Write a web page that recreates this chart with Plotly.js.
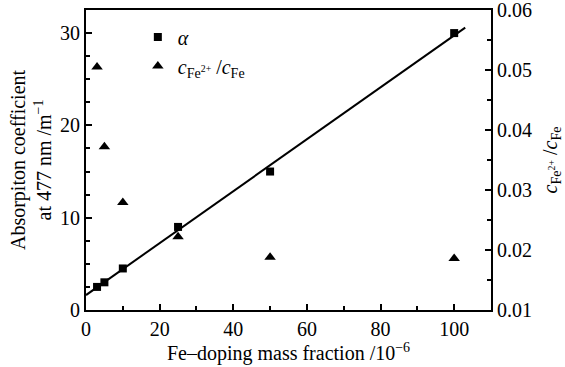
<!DOCTYPE html>
<html>
<head>
<meta charset="utf-8">
<script src="https://cdn.plot.ly/plotly-3.0.1.min.js"></script>
<style>html,body{margin:0;padding:0;background:#fff;}#chart{width:565px;height:367px;}</style>
</head>
<body>
<div id="chart"></div>
<script>
// Fe-doping mass fraction (10^-6)
const dopingX = [3, 5, 10, 25, 50, 100];
// absorption coefficient alpha at 477 nm (m^-1)
const alphaValues = [2.5, 3.0, 4.5, 9.0, 15.0, 30.0];
// ratio c_Fe2+ / c_Fe
const ratioValues = [0.0505, 0.0372, 0.0279, 0.0222, 0.0188, 0.0186];
// linear fit drawn over this doping span
const fitSpan = [0, 103];

const xTicks = [0, 20, 40, 60, 80, 100];
const yTicks = [0, 10, 20, 30];
const y2Ticks = [0.01, 0.02, 0.03, 0.04, 0.05, 0.06];

// least-squares fit of alpha vs doping
const n = dopingX.length;
const mx = dopingX.reduce((a, b) => a + b, 0) / n;
const my = alphaValues.reduce((a, b) => a + b, 0) / n;
let sxy = 0, sxx = 0;
for (let i = 0; i < n; i++) {
  sxy += (dopingX[i] - mx) * (alphaValues[i] - my);
  sxx += (dopingX[i] - mx) ** 2;
}
const slope = sxy / sxx;
const intercept = my - slope * mx;
const fitY = fitSpan.map(x => intercept + slope * x);

const FONT = "Liberation Serif, Times New Roman, serif";

const traces = [
  {
    x: fitSpan, y: fitY, mode: 'lines', type: 'scatter',
    line: {color: '#000', width: 2}, showlegend: false, hoverinfo: 'skip'
  },
  {
    x: dopingX, y: alphaValues, mode: 'markers', type: 'scatter',
    name: '<i>α</i>',
    marker: {symbol: 'square', size: 8, color: '#000'}
  },
  {
    x: dopingX, y: ratioValues, mode: 'markers', type: 'scatter', yaxis: 'y2',
    name: '<i>c</i><sub>Fe<sup>2+</sup></sub> /<i>c</i><sub>Fe</sub>',
    marker: {symbol: 'triangle-up', size: 10, color: '#000'}
  }
];

const axisCommon = {
  showline: true, linecolor: '#000', linewidth: 2,
  ticks: 'inside', ticklen: 6, tickwidth: 2, tickcolor: '#000',
  showgrid: false, zeroline: false, ticklabeloverflow: 'allow',
  tickfont: {family: FONT, size: 20, color: '#000'}
};

const layout = {
  width: 565, height: 367,
  margin: {l: 86, r: 74, t: 10, b: 57},
  paper_bgcolor: '#fff', plot_bgcolor: '#fff',
  font: {family: FONT, size: 20, color: '#000'},
  showlegend: true,
  legend: {
    x: 0.128, y: 0.975, xanchor: 'left', yanchor: 'top',
    bgcolor: 'rgba(0,0,0,0)', font: {family: FONT, size: 20, color: '#000'},
    tracegroupgap: 0
  },
  xaxis: Object.assign({}, axisCommon, {
    range: [0, 110], tickvals: xTicks, mirror: true,
    minor: {dtick: 10, ticklen: 4, tickwidth: 2, tickcolor: '#000', ticks: 'inside'},
    title: {text: 'Fe–doping mass fraction /10<sup>−6</sup>', font: {family: FONT, size: 20, color: '#000'}, standoff: 4}
  }),
  yaxis: Object.assign({}, axisCommon, {
    range: [0, 32.5], tickvals: yTicks,
    minor: {dtick: 2.5, ticklen: 4, tickwidth: 2, tickcolor: '#000', ticks: 'inside'},
    title: {text: 'Absorpiton coefficient<br>at 477 nm /m<sup>−1</sup>', font: {family: FONT, size: 20, color: '#000'}, standoff: 3}
  }),
  yaxis2: Object.assign({}, axisCommon, {
    overlaying: 'y', side: 'right',
    range: [0.0099999, 0.0600001], tickvals: y2Ticks, tickformat: '.2f',
    minor: {tick0: 0.01, dtick: 0.005, ticklen: 4, tickwidth: 2, tickcolor: '#000', ticks: 'inside'},
    title: {text: '<i>c</i><sub>Fe<sup>2+</sup></sub> /<i>c</i><sub>Fe</sub>', font: {family: FONT, size: 20, color: '#000'}, standoff: 12}
  })
};

Plotly.newPlot('chart', traces, layout, {displayModeBar: false, staticPlot: true});
</script>
</body>
</html>
